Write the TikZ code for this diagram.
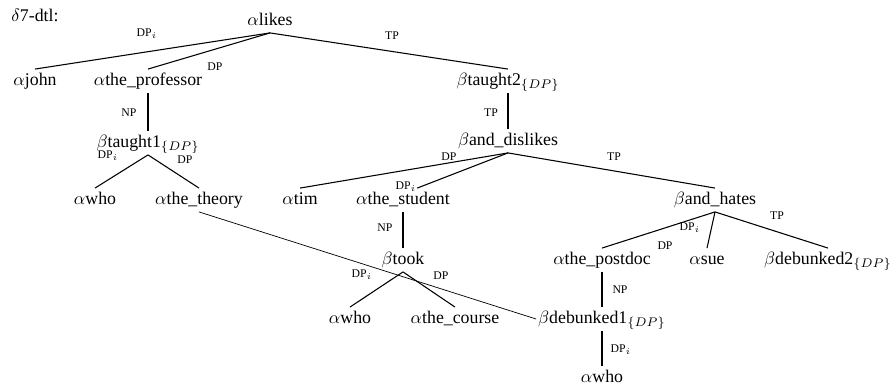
\documentclass[tikz,border=0pt]{standalone}
\usepackage{fontspec}
\setmainfont{Liberation Serif}

\tikzset{
	elem/.style={inner sep=1pt, text height=8pt, text depth=3pt},
	lbl/.style={inner sep=0pt, font=\fontsize{6.6}{8}\selectfont},
	branch/.style={line width=0.6pt},
}

\begin{document}
\begin{tikzpicture}[x=0.5618pt, y=-0.5618pt]
		\useasboundingbox (0,0) rectangle (891,388);

		\node[anchor=west, inner sep=0pt] (title) at (11,15) {$\delta$7-dtl:};

		%top level
		\node[elem] (likes) at (270,21) {$\alpha$likes};
		\node[elem] (john) at (35,81) {$\alpha$john};
		\node[elem] (prof) at (148,81) {$\alpha$the\_professor};
		\node[elem] (taught2) at (508,81) {$\beta$taught2$_{\{DP\}}$};

		%left subtree
		\node[elem] (taught1) at (148,143) {$\beta$taught1$_{\{DP\}}$};
		\node[elem] (whoA) at (95,200) {$\alpha$who};
		\node[elem] (theory) at (199,200) {$\alpha$the\_theory};

		%right subtree
		\node[elem] (dislikes) at (508,141) {$\beta$and\_dislikes};
		\node[elem] (tim) at (300,200) {$\alpha$tim};
		\node[elem] (student) at (403,200) {$\alpha$the\_student};
		\node[elem] (hates) at (715,200) {$\beta$and\_hates};
		\node[elem] (took) at (403,260) {$\beta$took};
		\node[elem] (postdoc) at (602,260) {$\alpha$the\_postdoc};
		\node[elem] (sue) at (707,260) {$\alpha$sue};
		\node[elem] (debunked2) at (828,260) {$\beta$debunked2$_{\{DP\}}$};
		\node[elem] (whoB) at (350,319) {$\alpha$who};
		\node[elem] (course) at (455,319) {$\alpha$the\_course};
		\node[elem] (debunked1) at (602,319) {$\beta$debunked1$_{\{DP\}}$};
		\node[elem] (whoC) at (602,378) {$\alpha$who};

		\foreach \a/\b in {likes/john,likes/prof,likes/taught2,prof/taught1,taught1/whoA,taught1/theory,
			taught2/dislikes,dislikes/tim,dislikes/hates,student/took,took/whoB,took/course,
			hates/postdoc,hates/sue,hates/debunked2,postdoc/debunked1,debunked1/whoC}{
			\draw[branch] (\a.south) -- (\b.north);
		}
		\draw[branch] (dislikes.south) -- ([xshift=8pt]student.north);

		%crossing link
		\draw[line width=0.4pt] (theory.south) -- (debunked1.west);

		%edge labels
		\foreach \x/\y/\t [count=\i] in {147/34/DP$_i$, 215/67/DP, 392/36/TP, 129/113/NP, 108/156/DP$_i$,
			185/160/DP, 491/113/TP, 449/157/DP, 406/187/DP$_i$, 614/157/TP, 385/228/NP,
			690/228/DP$_i$, 665/246/DP, 777/216/TP, 362/275/DP$_i$, 441/276/DP, 620/290/NP, 621/350/DP$_i$}{
			\node[lbl] (lab\i) at (\x,\y) {\t};
		}

	\end{tikzpicture}
\end{document}
